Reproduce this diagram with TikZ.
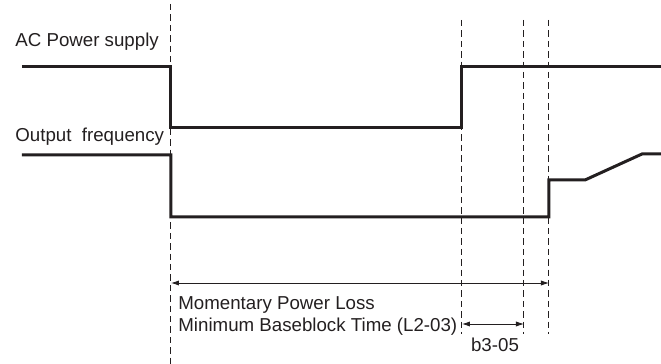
\documentclass[tikz,border=0pt]{standalone}
\usepackage{fontspec}
\setmainfont{Liberation Sans}
\usetikzlibrary{arrows.meta,positioning}
\definecolor{ink}{HTML}{231F20}
\tikzset{
  signal/.style={line width=1.5pt,line join=miter,ink},
  guide/.style={line width=0.5pt,dash pattern=on 3.2pt off 2pt,ink},
  span/.style={{Latex[length=4pt,width=2.6pt]}-{Latex[length=4pt,width=2.6pt]},line width=0.4pt,ink},
  sigtext/.style={font=\fontsize{9.35}{11}\selectfont,text=ink,inner sep=0pt,anchor=west,align=left}
}
\begin{document}
\begin{tikzpicture}[x=0.5pt,y=-0.5pt]
  \useasboundingbox (0,0) rectangle (661,364);

  % event times
  \coordinate (loss) at (171,0);
  \coordinate (back) at (462,0);
  \coordinate (bb) at (524,0);
  \coordinate (rest) at (549,0);

  % guide lines
  \draw[guide] (171,4) -- (171,364);
  \draw[guide] (462,20) -- (462,334);
  \draw[guide] (524,20) -- (524,334);
  \draw[guide] (549,20) -- (549,334);

  % signals
  \draw[signal] (22,67) -- (171,67) -- (171,128) -- (462,128) -- (462,67) -- (661,67);
  \draw[signal] (22,155) -- (171,155) -- (171,217) -- (549,217) -- (549,180) -- (585,180) -- (642,154) -- (661,154);

  % labels
  \node[sigtext] (acps) at (15,42) {AC Power supply};
  \node[sigtext] (ofreq) at (15,137) {Output\ \ frequency};

  % time spans
  \coordinate (mpl-a) at (171,283);
  \coordinate (mpl-b) at (549,283);
  \draw[span] (mpl-a) -- (mpl-b);
  \coordinate (bbt-a) at (462,324);
  \coordinate (bbt-b) at (524,324);
  \draw[span] (bbt-a) -- (bbt-b);

  \node[sigtext] (mpl) at (178,316) {Momentary Power Loss\\Minimum Baseblock Time (L2-03)};
  \node[sigtext,anchor=center] (bbtime) at (495,345) {b3-05};
\end{tikzpicture}
\end{document}
